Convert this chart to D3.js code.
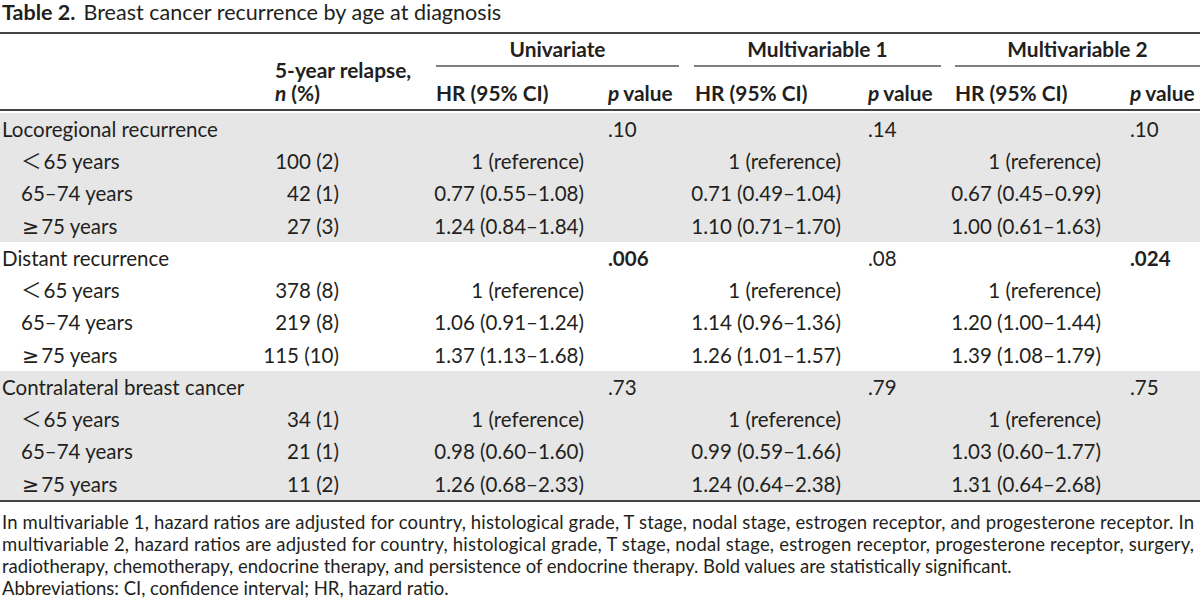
<!DOCTYPE html>
<html>
<head>
<meta charset="utf-8">
<script src="https://cdn.jsdelivr.net/npm/d3@7"></script>
<style>
  body { margin: 0; background: #fff; }
  svg text { font-family: Lato, "Open Sans", sans-serif; fill: #231f20; }
</style>
</head>
<body>
<div id="wrapper"></div>
<script>
// table content
var groups = ["Locoregional recurrence", "Distant recurrence", "Contralateral breast cancer"];
var ageBands = ["\uFF1C65 years", "65\u201374 years", "\u226575 years"];
var relapse = [
    ["100 (2)", "42 (1)", "27 (3)"],
    ["378 (8)", "219 (8)", "115 (10)"],
    ["34 (1)", "21 (1)", "11 (2)"]
];
var models = ["Univariate", "Multivariable 1", "Multivariable 2"];
var uniHR = [
    ["1 (reference)", "0.77 (0.55\u20131.08)", "1.24 (0.84\u20131.84)"],
    ["1 (reference)", "1.06 (0.91\u20131.24)", "1.37 (1.13\u20131.68)"],
    ["1 (reference)", "0.98 (0.60\u20131.60)", "1.26 (0.68\u20132.33)"]
];
var mv1HR = [
    ["1 (reference)", "0.71 (0.49\u20131.04)", "1.10 (0.71\u20131.70)"],
    ["1 (reference)", "1.14 (0.96\u20131.36)", "1.26 (1.01\u20131.57)"],
    ["1 (reference)", "0.99 (0.59\u20131.66)", "1.24 (0.64\u20132.38)"]
];
var mv2HR = [
    ["1 (reference)", "0.67 (0.45\u20130.99)", "1.00 (0.61\u20131.63)"],
    ["1 (reference)", "1.20 (1.00\u20131.44)", "1.39 (1.08\u20131.79)"],
    ["1 (reference)", "1.03 (0.60\u20131.77)", "1.31 (0.64\u20132.68)"]
];
var uniP = [".10", ".006", ".73"];
var mv1P = [".14", ".08", ".79"];
var mv2P = [".10", ".024", ".75"];
var footnote = [
    "In multivariable 1, hazard ratios are adjusted for country, histological grade, T stage, nodal stage, estrogen receptor, and progesterone receptor. In",
    "multivariable 2, hazard ratios are adjusted for country, histological grade, T stage, nodal stage, estrogen receptor, progesterone receptor, surgery,",
    "radiotherapy, chemotherapy, endocrine therapy, and persistence of endocrine therapy. Bold values are statistically significant.",
    "Abbreviations: CI, confidence interval; HR, hazard ratio."
];

var hrCols = [uniHR, mv1HR, mv2HR];
var pCols = [uniP, mv1P, mv2P];

function draw(){
    const parent = d3.select("#wrapper")
    parent.selectAll('*').remove()

    var width = 1200;
    var height = 598;
    var svg = parent.append("svg")
        .attr("width", width)
        .attr("height", height)

    // measure helper so the sizes follow the reference widths
    function fitSize(txt, weight, target){
        var t = svg.append("text").style("font-size", "100px").style("font-weight", weight).text(txt)
        var w = t.node().getComputedTextLength()
        t.remove()
        return 100 * target / w
    }
    var bodySize = fitSize(groups[0], "normal", 216)
    var headSize = fitSize(models[0], "bold", 96)
    var noteSize = fitSize(footnote[2], "normal", 1010)
    var titleSize = fitSize("Breast cancer recurrence by age at diagnosis", "normal", 418)

    // title
    var title = svg.append("text").attr("x", 2).attr("y", 20).style("font-size", titleSize + "px")
    title.append("tspan").style("font-weight", "bold").text("Table 2.")
    title.append("tspan").attr("dx", 8).text("Breast cancer recurrence by age at diagnosis")

    // rows
    var rows = []
    groups.forEach(function(g, gi){
        rows.push({label: g, group: gi, head: true})
        ageBands.forEach(function(a, ai){
            rows.push({label: a, group: gi, age: ai})
        })
    })
    var yScaler = d3.scaleBand()
        .domain(d3.range(rows.length))
        .range([113, 500])
        .paddingInner(0)

    // shading for groups 1 and 3
    svg.selectAll(".shade")
        .data([0, 2])
        .enter().append("rect")
        .attr("x", 0)
        .attr("width", width)
        .attr("y", d => yScaler(d * 4))
        .attr("height", yScaler.bandwidth() * 4)
        .attr("fill", "#e6e6e6")

    // rules
    svg.append("line").attr("x1", 0).attr("x2", width).attr("y1", 33).attr("y2", 33)
        .attr("stroke", "#444").attr("stroke-width", 2)
    svg.append("line").attr("x1", 0).attr("x2", width).attr("y1", 110).attr("y2", 110)
        .attr("stroke", "#444").attr("stroke-width", 2)
    svg.append("line").attr("x1", 0).attr("x2", width).attr("y1", 501).attr("y2", 501)
        .attr("stroke", "#444").attr("stroke-width", 2)

    // column positions
    var spanX = [[436, 679], [694, 941], [955, 1200]]
    var hrLeft = [436, 695, 955]
    var hrRight = [584, 841, 1101]
    var pLeft = [608, 868, 1130]

    // header
    models.forEach(function(m, i){
        svg.append("text")
            .attr("x", (spanX[i][0] + spanX[i][1]) / 2)
            .attr("y", 57)
            .attr("text-anchor", "middle")
            .style("font-size", headSize + "px")
            .style("font-weight", "bold")
            .text(m)
        svg.append("line")
            .attr("x1", spanX[i][0]).attr("x2", spanX[i][1])
            .attr("y1", 66).attr("y2", 66)
            .attr("stroke", "#555").attr("stroke-width", 1.3)
        svg.append("text")
            .attr("x", hrLeft[i]).attr("y", 101)
            .style("font-size", headSize + "px").style("font-weight", "bold")
            .text("HR (95% CI)")
        var pv = svg.append("text")
            .attr("x", pLeft[i]).attr("y", 101)
            .style("font-size", headSize + "px").style("font-weight", "bold")
        pv.append("tspan").style("font-style", "italic").text("p")
        pv.append("tspan").attr("dx", 4).text("value")
    })
    svg.append("text").attr("x", 275).attr("y", 78)
        .style("font-size", headSize + "px").style("font-weight", "bold")
        .text("5-year relapse,")
    var nh = svg.append("text").attr("x", 275).attr("y", 101)
        .style("font-size", headSize + "px").style("font-weight", "bold")
    nh.append("tspan").style("font-style", "italic").text("n")
    nh.append("tspan").attr("dx", 5).text("(%)")

    // body
    var base = yScaler.bandwidth() * 0.74
    rows.forEach(function(r, i){
        var y = yScaler(i) + base
        var lab = svg.append("text")
            .attr("x", r.head ? 2 : 21).attr("y", y)
            .style("font-size", bodySize + "px")
        var first = r.label.charAt(0)
        if (!r.head && first === "\uFF1C"){
            // wide comparison sign as in the source typesetting
            lab.append("tspan").style("font-family", "'Noto Sans CJK SC'").text(first)
            lab.append("tspan").attr("dx", 2).text(r.label.slice(1))
        } else if (!r.head && first === "\u2265"){
            lab.append("tspan").style("font-family", "'DejaVu Sans'").attr("dx", 1).text(first)
            lab.append("tspan").attr("dx", 2).text(r.label.slice(1))
        } else {
            lab.text(r.label)
        }
        if (r.head){
            pCols.forEach(function(col, ci){
                var p = col[r.group]
                svg.append("text")
                    .attr("x", pLeft[ci]).attr("y", y)
                    .style("font-size", bodySize + "px")
                    .style("font-weight", parseFloat(p) < 0.05 ? "bold" : "normal")
                    .text(p)
            })
        } else {
            svg.append("text")
                .attr("x", 339).attr("y", y)
                .attr("text-anchor", "end")
                .style("font-size", bodySize + "px")
                .text(relapse[r.group][r.age])
            hrCols.forEach(function(col, ci){
                svg.append("text")
                    .attr("x", hrRight[ci]).attr("y", y)
                    .attr("text-anchor", "end")
                    .style("font-size", bodySize + "px")
                    .text(col[r.group][r.age])
            })
        }
    })

    // footnote
    footnote.forEach(function(line, i){
        var t = svg.append("text")
            .attr("x", 2).attr("y", 529 + i * 22)
            .style("font-size", noteSize + "px")
            .text(line)
        if (i < 2) t.attr("textLength", 1192).attr("lengthAdjust", "spacing")
    })
}
draw()
</script>
</body>
</html>
